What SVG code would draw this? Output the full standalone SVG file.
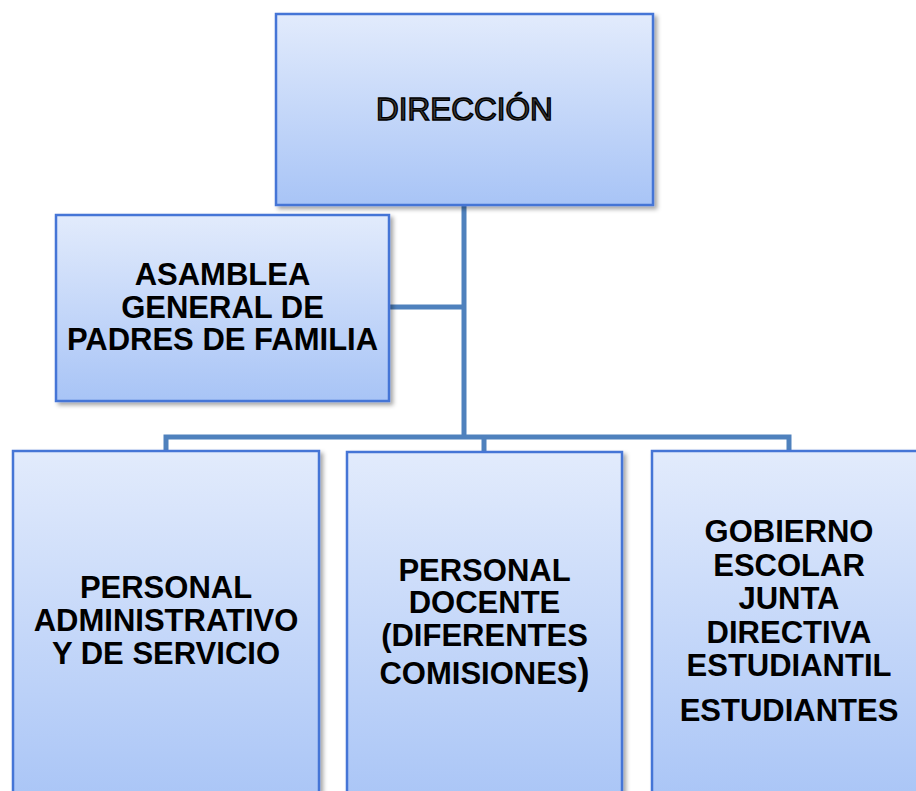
<svg xmlns="http://www.w3.org/2000/svg" width="916" height="791" viewBox="0 0 916 791">
<defs>
<linearGradient id="g" x1="0" y1="0" x2="0" y2="1">
<stop offset="0" stop-color="#e2ebfc"/>
<stop offset="1" stop-color="#a8c4f6"/>
</linearGradient>
<filter id="sh" x="-5%" y="-5%" width="115%" height="115%">
<feDropShadow dx="3" dy="3" stdDeviation="2" flood-color="#000" flood-opacity="0.35"/>
</filter>
</defs>
<style>
.box{fill:url(#g);stroke:#4574d6;stroke-width:2.5;filter:url(#sh)}
.t{font-family:"Liberation Sans",Arial,sans-serif;font-weight:bold;font-size:31px;fill:#000;text-anchor:middle}
.title{font-family:"Liberation Sans",Arial,sans-serif;font-size:31.5px;fill:#3a3a3a;stroke:#000;stroke-width:1.4;text-anchor:middle}
.c{stroke:#4f81bd;stroke-width:5;fill:none}
</style>
<g id="connectors">
<line class="c" x1="464" y1="205" x2="464" y2="439"/>
<line class="c" x1="389" y1="307" x2="464" y2="307"/>
<polyline class="c" points="166,452 166,437 789,437 789,452"/>
<line class="c" x1="484" y1="437" x2="484" y2="452"/>
</g>
<g id="direccion">
<rect class="box" x="276" y="14" width="377" height="191"/>
<text class="title" x="464.5" y="120">DIRECCIÓN</text>
</g>
<g id="asamblea">
<rect class="box" x="56" y="215" width="333" height="186"/>
<text class="t" x="222.5" y="285">ASAMBLEA</text>
<text class="t" x="222.5" y="317.5">GENERAL DE</text>
<text class="t" x="222.5" y="350">PADRES DE FAMILIA</text>
</g>
<g id="administrativo">
<rect class="box" x="13" y="451" width="306" height="360"/>
<text class="t" x="166" y="598">PERSONAL</text>
<text class="t" x="166" y="631">ADMINISTRATIVO</text>
<text class="t" x="166" y="664">Y DE SERVICIO</text>
</g>
<g id="docente">
<rect class="box" x="347" y="452" width="275" height="360"/>
<text class="t" x="484.5" y="580.5">PERSONAL</text>
<text class="t" x="484.5" y="613">DOCENTE</text>
<text class="t" x="484.5" y="645.5">(DIFERENTES</text>
<text class="t" x="484.5" y="684">COMISIONES<tspan font-size="36px">)</tspan></text>
</g>
<g id="gobierno">
<rect class="box" x="652" y="451" width="274" height="360"/>
<text class="t" x="789" y="542">GOBIERNO</text>
<text class="t" x="789" y="576">ESCOLAR</text>
<text class="t" x="789" y="609">JUNTA</text>
<text class="t" x="789" y="643">DIRECTIVA</text>
<text class="t" x="789" y="676">ESTUDIANTIL</text>
<text class="t" x="789" y="721">ESTUDIANTES</text>
</g>
</svg>
